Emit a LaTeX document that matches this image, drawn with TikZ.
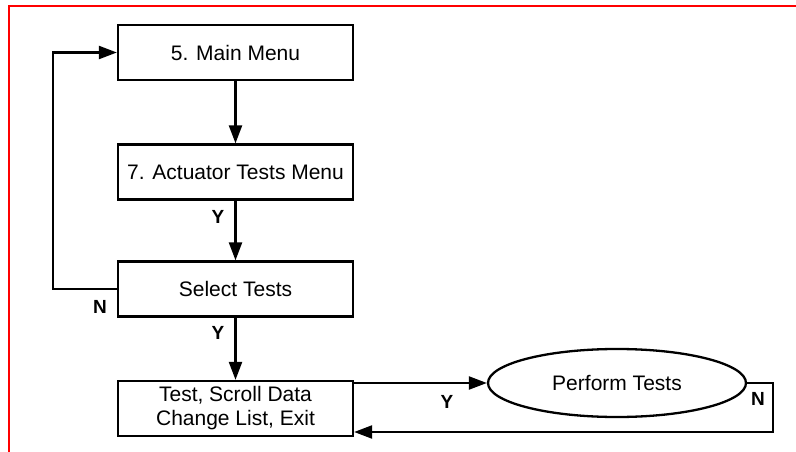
\documentclass[tikz,border=0pt]{standalone}
\usepackage{fontspec}
\setmainfont{Liberation Sans}
\usetikzlibrary{arrows.meta,shapes.geometric}
\begin{document}
\begin{tikzpicture}[x=1pt,y=-1pt,
  box/.style={draw,line width=2.3pt,minimum width=235pt,minimum height=55pt,inner sep=0pt,font=\fontsize{21}{25}\selectfont,align=center},
  oval/.style={draw,ellipse,line width=2.3pt,minimum width=258pt,minimum height=68pt,inner sep=0pt,font=\fontsize{21}{25}\selectfont},
  arr/.style={line width=2.3pt,-{Triangle[length=18pt,width=13pt]}},
  lbl/.style={font=\bfseries\fontsize{19}{21}\selectfont,inner sep=0pt}]
\useasboundingbox (0,0) rectangle (796,452);
\draw[red,line width=2.2pt] (9,452) -- (9,6) -- (796,6);
\node[box] (main) at (235.5,52.5) {5. Main Menu};
\node[box] (act) at (235.5,172) {7. Actuator Tests Menu};
\node[box] (sel) at (235.5,289) {Select Tests};
\node[box] (test) at (235.5,408.5) {Test, Scroll Data\\[-1pt]Change List, Exit};
\node[oval] (perf) at (617,383) {Perform Tests};
\coordinate (lp) at (53,0);
\coordinate (rp) at (773,432);
\draw[arr] (main) -- (act);
\draw[arr] (act) -- (sel);
\draw[arr] (sel) -- (test);
\draw[arr] (sel.west) -- (sel.west -| lp) |- (main.west);
\draw[arr] (perf.west -| test.east) -- (perf.west);
\draw[arr] (perf.east) -| (rp) -- (rp -| test.east);
\node[lbl] (y1) at (218,217) {Y};
\node[lbl] (y2) at (218,333) {Y};
\node[lbl] (n1) at (100,307) {N};
\node[lbl] (y3) at (447,402) {Y};
\node[lbl] (n2) at (758,399) {N};
\end{tikzpicture}
\end{document}
